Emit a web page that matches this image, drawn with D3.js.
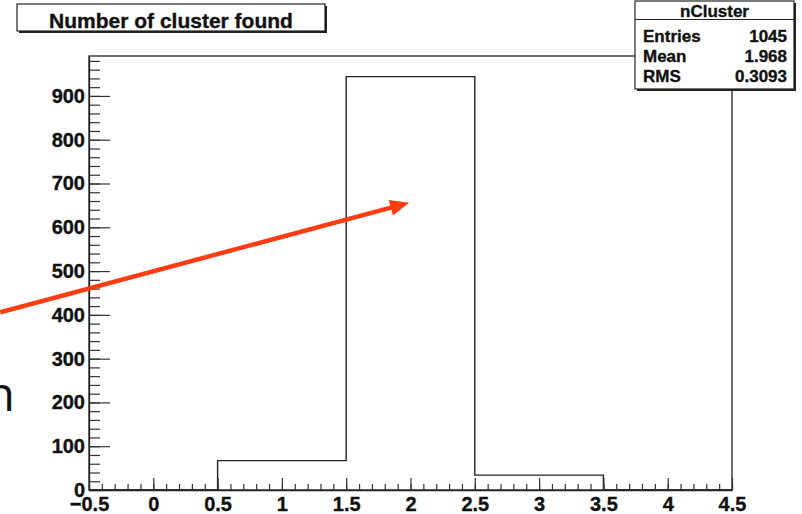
<!DOCTYPE html>
<html lang="en">
<head>
    <meta charset="UTF-8">
    <title>Number of cluster found</title>
    <script src="https://d3js.org/d3.v7.min.js"></script>
    <style>
        body{margin:0;background:#fff;}
        text{font-family:"Liberation Sans", Arial, sans-serif;font-weight:bold;fill:#111;stroke:#111;stroke-width:0.35px;}
    </style>
</head>
<body>
<div id="resultat"></div>
<script>
    // histogram nCluster : bins de largeur 1 centres sur les entiers
    const binEdges = [-0.5, 0.5, 1.5, 2.5, 3.5, 4.5];
    const binCounts = [0, 67, 944, 34, 0];
    const xTicks = [-0.5, 0, 0.5, 1, 1.5, 2, 2.5, 3, 3.5, 4, 4.5];
    const yTicks = [0, 100, 200, 300, 400, 500, 600, 700, 800, 900];
    const statLabels = ['Entries', 'Mean', 'RMS'];
    const statValues = ['1045', '1.968', '0.3093'];
    const histTitle = 'Number of cluster found';
    const histName = 'nCluster';
    // fleche rouge (coordonnees de donnees)
    const arrowFrom = [-1.19, 406], arrowTo = [1.99, 656];

    let width = 802, height = 514,
        frame = {left:89, top:56, right:732, bottom:490},
        yMax = d3.max(binCounts)*1.05;

    let x = d3.scaleLinear().domain([binEdges[0], binEdges[binEdges.length-1]]).range([frame.left, frame.right]),
        y = d3.scaleLinear().domain([0, yMax]).range([frame.bottom, frame.top]);

    let svg = d3.select('#resultat').append('svg')
        .attr('width', width).attr('height', height)
        .style('display','block');

    svg.append('rect').attr('width', width).attr('height', height).attr('fill', '#fff');

    // cadre
    svg.append('rect')
        .attr('x', frame.left).attr('y', frame.top)
        .attr('width', frame.right-frame.left).attr('height', frame.bottom-frame.top)
        .attr('fill','none').attr('stroke','#222').attr('stroke-width',1.3);

    // histogramme en escalier
    let pts = [];
    binCounts.forEach((c,i)=>{
        pts.push([binEdges[i], c]);
        pts.push([binEdges[i+1], c]);
    });
    svg.append('path')
        .attr('d', d3.line().x(d=>x(d[0])).y(d=>y(d[1]))(pts))
        .attr('fill','none').attr('stroke','#222').attr('stroke-width',1.4);

    // axe Y : graduations vers l'interieur
    let gy = svg.append('g').attr('transform', `translate(${frame.left},0)`);
    gy.call(d3.axisLeft(y).tickValues(d3.range(0, yMax, 20)).tickSizeInner(-11).tickSizeOuter(0).tickFormat(''));
    gy.call(g=>g.selectAll('.domain').remove());
    let gyMaj = svg.append('g').attr('transform', `translate(${frame.left},0)`);
    gyMaj.call(d3.axisLeft(y).tickValues(yTicks).tickSizeInner(-21).tickSizeOuter(0).tickPadding(4));
    gyMaj.selectAll('.domain').attr('stroke','#222').attr('stroke-width',1.3);
    gyMaj.selectAll('text').style('font-size','20px').attr('fill','#111');

    // axe X
    let gx = svg.append('g').attr('transform', `translate(0,${frame.bottom})`);
    gx.call(d3.axisBottom(x).tickValues(d3.range(-5, 46).map(i=>i/10)).tickSizeInner(-6).tickSizeOuter(0).tickFormat(''));
    gx.selectAll('.domain').remove();
    let gxMaj = svg.append('g').attr('transform', `translate(0,${frame.bottom})`);
    gxMaj.call(d3.axisBottom(x).tickValues(xTicks).tickSizeInner(-12).tickSizeOuter(0).tickPadding(7).tickFormat(d3.format('')));
    gxMaj.selectAll('.domain').attr('stroke','#222').attr('stroke-width',1.3);
    gxMaj.selectAll('text').style('font-size','20px').attr('fill','#111');
    svg.selectAll('.tick line').attr('stroke','#333').attr('stroke-width',1.2);

    // titre avec ombre
    let tb = {x:17, y:4, w:308, h:27};
    svg.append('rect').attr('x',tb.x+2).attr('y',tb.y+2).attr('width',tb.w).attr('height',tb.h).attr('fill','#222');
    svg.append('rect').attr('x',tb.x).attr('y',tb.y).attr('width',tb.w).attr('height',tb.h)
        .attr('fill','#fff').attr('stroke','#222').attr('stroke-width',1.2);
    svg.append('text').attr('x', tb.x+tb.w/2).attr('y', 28).attr('text-anchor','middle')
        .style('font-size','21px').text(histTitle);

    // boite de statistiques
    let sb = {x:635, y:1, w:159, h:88};
    svg.append('rect').attr('x',sb.x+2).attr('y',sb.y+2).attr('width',sb.w).attr('height',sb.h).attr('fill','#222');
    svg.append('rect').attr('x',sb.x).attr('y',sb.y).attr('width',sb.w).attr('height',sb.h)
        .attr('fill','#fff').attr('stroke','#222').attr('stroke-width',1.2);
    svg.append('line').attr('x1',sb.x).attr('x2',sb.x+sb.w).attr('y1',19.5).attr('y2',19.5)
        .attr('stroke','#222').attr('stroke-width',1.2);
    svg.append('text').attr('x', sb.x+sb.w/2).attr('y', 17).attr('text-anchor','middle')
        .style('font-size','17px').text(histName);
    statLabels.forEach((l,i)=>{
        svg.append('text').attr('x', sb.x+8).attr('y', 42+i*20).style('font-size','17px').text(l);
        svg.append('text').attr('x', sb.x+sb.w-7).attr('y', 42+i*20).attr('text-anchor','end')
            .style('font-size','17px').text(statValues[i]);
    });

    // fleche
    let p0 = [x(arrowFrom[0]), y(arrowFrom[1])], p1 = [x(arrowTo[0]), y(arrowTo[1])],
        ang = Math.atan2(p1[1]-p0[1], p1[0]-p0[0]), hl = 19, hw = 8,
        base = [p1[0]-hl*Math.cos(ang), p1[1]-hl*Math.sin(ang)];
    svg.append('line').attr('x1',p0[0]).attr('y1',p0[1]).attr('x2',base[0]+2*Math.cos(ang)).attr('y2',base[1]+2*Math.sin(ang))
        .attr('stroke','#ff3c12').attr('stroke-width',4.5);
    svg.append('polygon')
        .attr('points', [p1,
            [base[0]+hw*Math.sin(ang), base[1]-hw*Math.cos(ang)],
            [base[0]-hw*Math.sin(ang), base[1]+hw*Math.cos(ang)]].map(p=>p.join(',')).join(' '))
        .attr('fill','#ff3c12');

    // lettre coupee du texte de la diapositive
    svg.append('text').attr('x', 15).attr('y', 411).attr('text-anchor','end')
        .style('font-family','"Open Sans", sans-serif').style('font-weight','normal').style('font-size','48px')
        .style('stroke','none')
        .text('n');
</script>
</body>
</html>
